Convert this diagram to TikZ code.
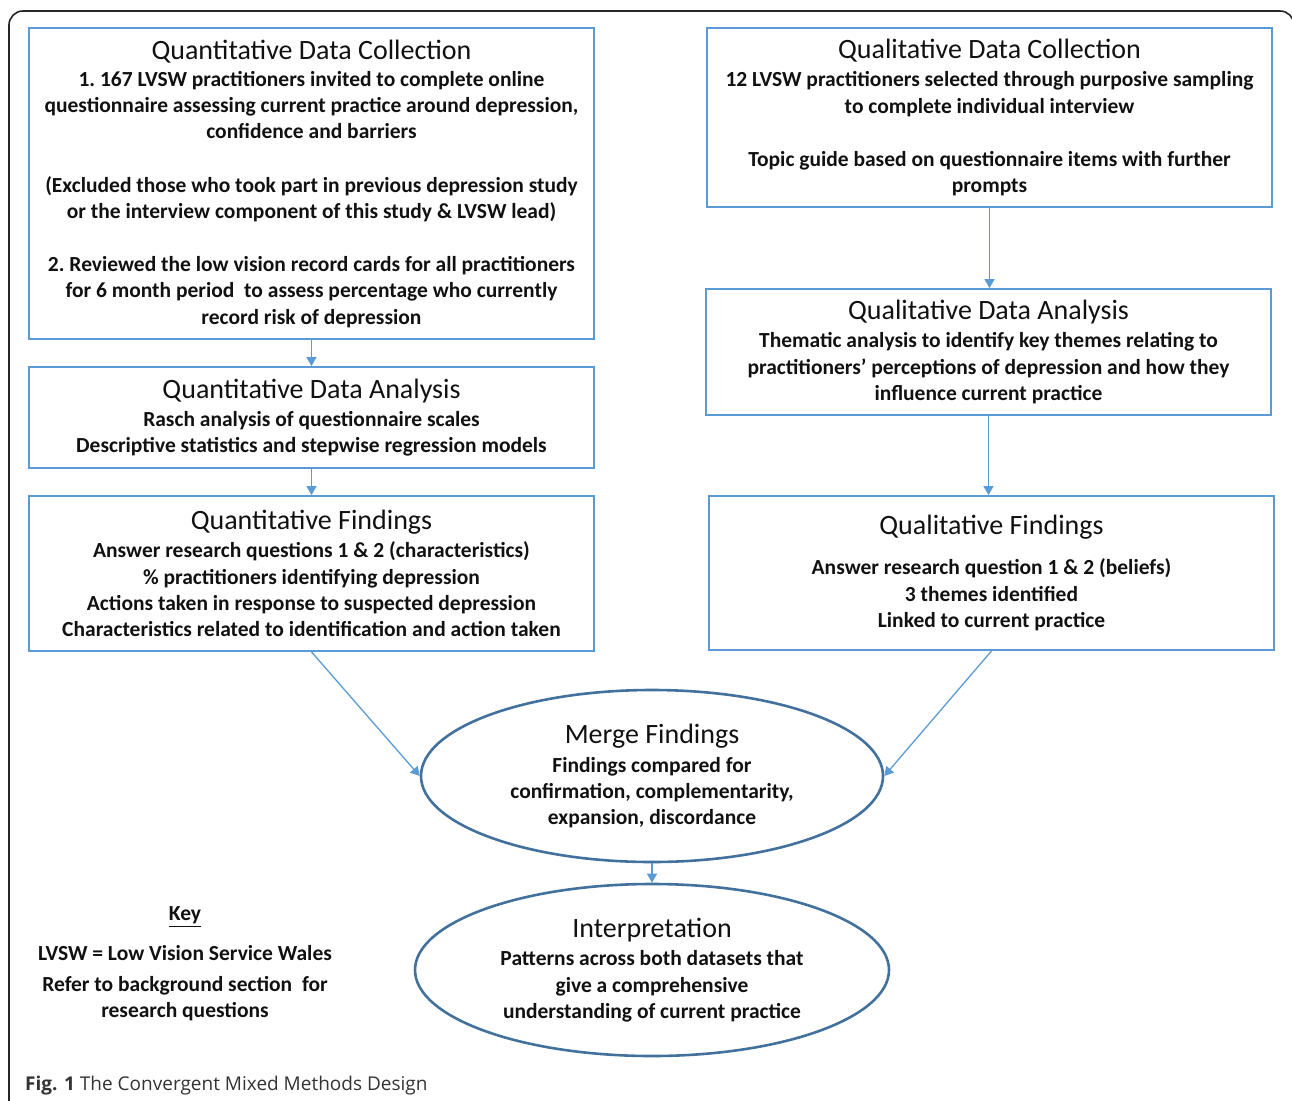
\documentclass[tikz,border=0pt]{standalone}
\usepackage{fontspec}
\setmainfont{Carlito}
\newfontfamily\capfont{Open Sans}
\usetikzlibrary{shapes.geometric,arrows.meta}
\definecolor{boxblue}{HTML}{5B9BD5}
\definecolor{ellblue}{HTML}{41719C}
\definecolor{txt}{HTML}{111111}
\newcommand\bodyf{\fontsize{21.5}{26.3}\selectfont\bfseries\frenchspacing}
\newcommand\ttlf{\fontsize{28}{30}\selectfont\mdseries}
\begin{document}
\begin{tikzpicture}[x=1pt,y=-1pt,
  box/.style={draw=boxblue,line width=1.8pt,inner sep=0pt,align=center,font=\bodyf,text=txt},
  ell/.style={ellipse,draw=ellblue,line width=2.6pt,inner sep=0pt,align=center,font=\bodyf,text=txt},
  arr/.style={draw=boxblue,line width=1.3pt,-{Triangle[width=10pt,length=9pt]}},
  plain/.style={inner sep=0pt,align=center,font=\bodyf,text=txt}]
\useasboundingbox (0,0) rectangle (1292,1100);
\begin{scope}
\clip (0,0) rectangle (1292,1100);
\draw[rounded corners=14pt,line width=1.6pt,draw=black!85] (9,11) rectangle (1294,1130);
\end{scope}

% left column
\node[box,minimum width=565pt,minimum height=311pt] (qdc) at (311.5,183.5) {%
{\ttlf Quantitative Data Collection}\\[1pt]
1. 167 LVSW practitioners invited to complete online\\
questionnaire assessing current practice around depression,\\
confidence and barriers\\[26.8pt]
(Excluded those who took part in previous depression study\\
or the interview component of this study \& LVSW lead)\\[26.8pt]
2. Reviewed the low vision record cards for all practitioners\\
for 6 month period\ \ to assess percentage who currently\\
record risk of depression};

\node[box,minimum width=565pt,minimum height=101pt] (qda) at (311.5,417.5) {%
{\ttlf Quantitative Data Analysis}\\[2pt]
Rasch analysis of questionnaire scales\\
Descriptive statistics and stepwise regression models};

\node[box,minimum width=565pt,minimum height=155pt] (qf) at (311.5,573.5) {%
{\ttlf Quantitative Findings}\\[2pt]
Answer research questions 1 \& 2 (characteristics)\\
\% practitioners identifying depression\\
Actions taken in response to suspected depression\\
Characteristics related to identification and action taken};

% right column
\node[box,minimum width=565pt,minimum height=179pt] (ldc) at (989.5,117.5) {%
{\ttlf Qualitative Data Collection}\\[2pt]
12 LVSW practitioners selected through purposive sampling\\
to complete individual interview\\[26.5pt]
Topic guide based on questionnaire items with further\\
prompts};

\node[box,minimum width=565pt,minimum height=126pt] (lda) at (988.5,352) {%
{\ttlf Qualitative Data Analysis}\\[2pt]
Thematic analysis to identify key themes relating to\\
practitioners’ perceptions of depression and how they\\
influence current practice};

\node[box,minimum width=565pt,minimum height=154pt] (lf) at (991.5,573) {%
{\ttlf Qualitative Findings}\\[14pt]
Answer research question 1 \& 2 (beliefs)\\
3 themes identified\\
Linked to current practice};

% ellipses
\node[ell,minimum width=462pt,minimum height=172pt] (merge) at (652,776) {%
{\ttlf Merge Findings}\\[3pt]
Findings compared for\\
confirmation, complementarity,\\
expansion, discordance};

\node[ell,minimum width=474pt,minimum height=172pt] (interp) at (652,970) {%
{\ttlf Interpretation}\\[2pt]
Patterns across both datasets that\\
give a comprehensive\\
understanding of current practice};

% key
\node[plain] (key) at (185,964) {%
\underline{Key}\\[13pt]
LVSW = Low Vision Service Wales\\[4.7pt]
Refer to background section\ \ for\\
research questions};

% caption
\node[inner sep=0pt,anchor=west,text=black!80,font=\capfont\fontsize{19}{22}\selectfont] (cap) at (25,1086) {\textbf{Fig. 1} The Convergent Mixed Methods Design};

% arrows
\draw[arr] (qdc.south) -- (qda.north);
\draw[arr] (qda.south) -- (qf.north);
\draw[arr] (ldc.south) -- (ldc.south |- lda.north);
\draw[arr] (lda.south) -- (lda.south |- lf.north);
\draw[arr] (qf.south) -- (merge.west);
\draw[arr] (lf.south) -- (merge.east);
\draw[arr] (merge.south) -- (interp.north);
\end{tikzpicture}
\end{document}
